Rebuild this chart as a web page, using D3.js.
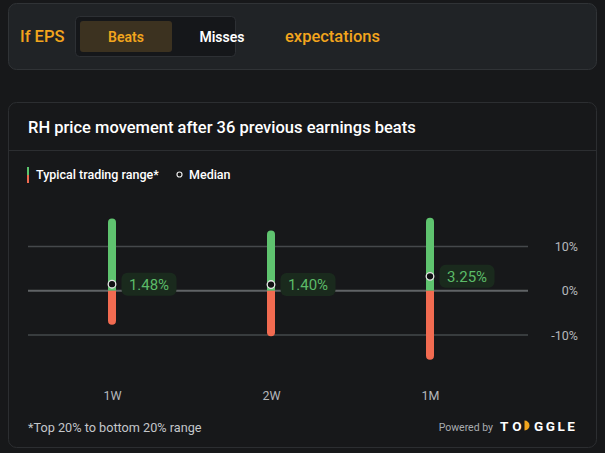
<!DOCTYPE html>
<html>
<head>
<meta charset="utf-8">
<script src="https://cdn.jsdelivr.net/npm/d3@7"></script>
<style>
  body { margin: 0; background: #17181a; }
  text { font-family: Roboto, "Noto Sans", sans-serif; }
</style>
</head>
<body>
<div id="chart"></div>
<script>
// data
var periods = ["1W", "2W", "1M"];
var highs = [16.3, 13.6, 16.5];
var lows = [-7.7, -10.3, -15.6];
var medians = [1.48, 1.40, 3.25];
var yTicks = [10, 0, -10];

var svgWidth = 605, svgHeight = 453;

var svg = d3.select("#chart")
            .append("svg")
            .attr("width", svgWidth)
            .attr("height", svgHeight);

svg.append("rect").attr("width", svgWidth).attr("height", svgHeight).attr("fill", "#17181a");

// top toggle card
svg.append("rect")
   .attr("x", 8.5).attr("y", 3.5).attr("width", 588).attr("height", 66).attr("rx", 8)
   .attr("fill", "#202326").attr("stroke", "#303336");
svg.append("text").attr("x", 20).attr("y", 42)
   .attr("fill", "#f2a51d").attr("font-size", 16.5).attr("font-weight", 500).text("If EPS");
svg.append("rect")
   .attr("x", 75.5).attr("y", 16.5).attr("width", 160).attr("height", 40).attr("rx", 4)
   .attr("fill", "#15171a").attr("stroke", "#2d3034");
svg.append("rect")
   .attr("x", 80).attr("y", 21).attr("width", 92).attr("height", 31).attr("rx", 3)
   .attr("fill", "#3c3220");
svg.append("text").attr("x", 126).attr("y", 41.5).attr("text-anchor", "middle")
   .attr("fill", "#f2a51d").attr("font-size", 14).attr("font-weight", 600).text("Beats");
svg.append("text").attr("x", 222).attr("y", 41.5).attr("text-anchor", "middle")
   .attr("fill", "#ffffff").attr("font-size", 14).attr("font-weight", 600).text("Misses");
svg.append("text").attr("x", 285).attr("y", 42)
   .attr("fill", "#f2a51d").attr("font-size", 16.5).attr("font-weight", 500).text("expectations");

// chart card
svg.append("rect")
   .attr("x", 8.5).attr("y", 102.5).attr("width", 588).attr("height", 345).attr("rx", 8)
   .attr("fill", "#17181a").attr("stroke", "#2c2e31");
svg.append("line")
   .attr("x1", 9).attr("x2", 596).attr("y1", 150.5).attr("y2", 150.5)
   .attr("stroke", "#2c2e31");
svg.append("text").attr("x", 28).attr("y", 133)
   .attr("fill", "#ffffff").attr("font-size", 16.5).attr("font-weight", 500)
   .text("RH price movement after 36 previous earnings beats");

// legend
svg.append("rect").attr("x", 27).attr("y", 167).attr("width", 2).attr("height", 8).attr("fill", "#5cc46e");
svg.append("rect").attr("x", 27).attr("y", 175).attr("width", 2).attr("height", 8).attr("fill", "#f06a50");
svg.append("text").attr("x", 36).attr("y", 179)
   .attr("fill", "#ffffff").attr("font-size", 12.5).attr("font-weight", 500).text("Typical trading range*");
svg.append("circle").attr("cx", 179.5).attr("cy", 174.5).attr("r", 2.5)
   .attr("fill", "#111").attr("stroke", "#e8e8e8").attr("stroke-width", 1.2);
svg.append("text").attr("x", 189).attr("y", 179)
   .attr("fill", "#ffffff").attr("font-size", 12.5).attr("font-weight", 500).text("Median");

// scales
var xScale = d3.scalePoint()
               .domain(periods)
               .range([112, 430]);

var yScale = d3.scaleLinear()
               .domain([-10, 10])
               .range([335, 246.5]);

var plot = svg.append("g");

// gridlines
plot.selectAll(".grid")
    .data(yTicks)
    .enter()
    .append("line")
    .attr("x1", 28).attr("x2", 528)
    .attr("y1", d => yScale(d)).attr("y2", d => yScale(d))
    .attr("stroke", d => d === 0 ? "#606366" : "#45484b")
    .attr("stroke-width", d => d === 0 ? 2 : 1.5);

// right axis labels
var yAxis = d3.axisLeft(yScale)
              .tickValues(yTicks)
              .tickSize(0)
              .tickPadding(0)
              .tickFormat(d => d + "%");
var axisG = plot.append("g")
                .attr("transform", "translate(578,0)")
                .call(yAxis);
axisG.select(".domain").remove();
axisG.selectAll("text")
     .attr("fill", "#b4b7bb")
     .attr("font-size", 12.5)
     .style("font-family", "Roboto, sans-serif");

// half-rounded bar path
var barW = 8, r = 4;
function segment(x, y1, y2, roundTop) {
  var l = x - barW / 2, rr = x + barW / 2;
  if (roundTop) {
    return "M" + l + "," + y2 + "L" + l + "," + (y1 + r) +
           "A" + r + "," + r + " 0 0 1 " + rr + "," + (y1 + r) +
           "L" + rr + "," + y2 + "Z";
  }
  return "M" + l + "," + y1 + "L" + l + "," + (y2 - r) +
         "A" + r + "," + r + " 0 0 0 " + rr + "," + (y2 - r) +
         "L" + rr + "," + y1 + "Z";
}

var groups = plot.selectAll(".period")
                 .data(periods)
                 .enter()
                 .append("g")
                 .classed("period", true);

groups.append("path")
      .attr("d", (d, i) => segment(xScale(d), yScale(highs[i]), yScale(0), true))
      .attr("fill", "#5fc36f");

groups.append("path")
      .attr("d", (d, i) => segment(xScale(d), yScale(0), yScale(lows[i]), false))
      .attr("fill", "#f26b51");

groups.append("circle")
      .attr("cx", d => xScale(d))
      .attr("cy", (d, i) => yScale(medians[i]))
      .attr("r", 3.8)
      .attr("fill", "#111214")
      .attr("stroke", "#e6e6e6")
      .attr("stroke-width", 1.3);

groups.append("rect")
      .attr("x", d => xScale(d) + 9.5)
      .attr("y", (d, i) => yScale(medians[i]) - 11.5)
      .attr("width", 55)
      .attr("height", 23)
      .attr("rx", 6)
      .attr("fill", "#1a2a1d");

groups.append("text")
      .attr("x", d => xScale(d) + 37)
      .attr("y", (d, i) => yScale(medians[i]) + 5.5)
      .attr("text-anchor", "middle")
      .attr("fill", "#5cbb68")
      .attr("font-size", 15)
      .text((d, i) => medians[i].toFixed(2) + "%");

// x labels
var xAxis = d3.axisBottom(xScale).tickSize(0).tickPadding(0);
var xG = plot.append("g")
             .attr("transform", "translate(0,391)")
             .call(xAxis);
xG.select(".domain").remove();
xG.selectAll("text")
  .attr("fill", "#b4b7bb")
  .attr("font-size", 12.5)
  .style("font-family", "Roboto, sans-serif");

// footer
svg.append("text").attr("x", 28).attr("y", 432)
   .attr("fill", "#c4c7ca").attr("font-size", 12.7).text("*Top 20% to bottom 20% range");
svg.append("text").attr("x", 493).attr("y", 430.5).attr("text-anchor", "end")
   .attr("fill", "#a9acb0").attr("font-size", 10.5).text("Powered by");
var logo = svg.append("g").attr("transform", "translate(500,430.5)");
logo.append("text").attr("x", 0).attr("y", 0)
    .attr("fill", "#ffffff").attr("font-size", 13.5).attr("font-weight", 700)
    .attr("letter-spacing", 4).text("TO");
logo.append("path")
    .attr("d", "M24.5,-10 A5,5 0 0 1 24.5,0 Z")
    .attr("fill", "#f2a51d");
logo.append("text").attr("x", 34).attr("y", 0)
    .attr("fill", "#ffffff").attr("font-size", 13.5).attr("font-weight", 700)
    .attr("letter-spacing", 2.5).text("GGLE");
</script>
</body>
</html>
